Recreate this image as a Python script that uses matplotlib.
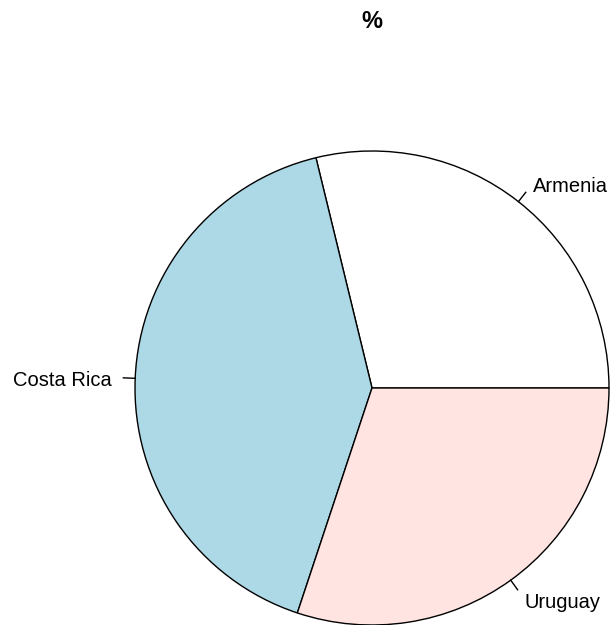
import numpy as np
import matplotlib.pyplot as plt

plt.rcParams['font.family'] = ['Liberation Sans', 'DejaVu Sans']

countries = ["Armenia", "Costa Rica", "Uruguay"]
shares = [28.8, 41.1, 30.1]
colors = ["white", "#ADD8E6", "#FFE4E1"]

fig = plt.figure(figsize=(6.11, 6.25), dpi=100)
ax = fig.add_axes([0, 0, 1, 1])

cx, cy, r = 372, 237, 237
wedges, _ = ax.pie(shares, colors=colors, startangle=0, counterclock=True,
                   center=(cx, cy), radius=r,
                   wedgeprops=dict(edgecolor="black", linewidth=1))

# labels with small tick lines, like base R pie()
total = sum(shares)
start = 0.0
for name, v in zip(countries, shares):
    mid = np.deg2rad(360 * (start + v / 2) / total)
    start += v
    c, s = np.cos(mid), np.sin(mid)
    ax.plot([cx + r * c, cx + 1.05 * r * c], [cy + r * s, cy + 1.05 * r * s],
            color="black", linewidth=1)
    ax.text(cx + 1.1 * r * c, cy + 1.1 * r * s - 3, name, fontsize=14.5,
            ha="left" if c > 0 else "right", va="center")

ax.text(372, 603, "%", fontsize=17, fontweight="bold", ha="center", va="center")

ax.set_xlim(0, 611)
ax.set_ylim(0, 625)
ax.set_aspect("auto")
ax.set_axis_off()

fig.savefig("out.png", dpi=100)
